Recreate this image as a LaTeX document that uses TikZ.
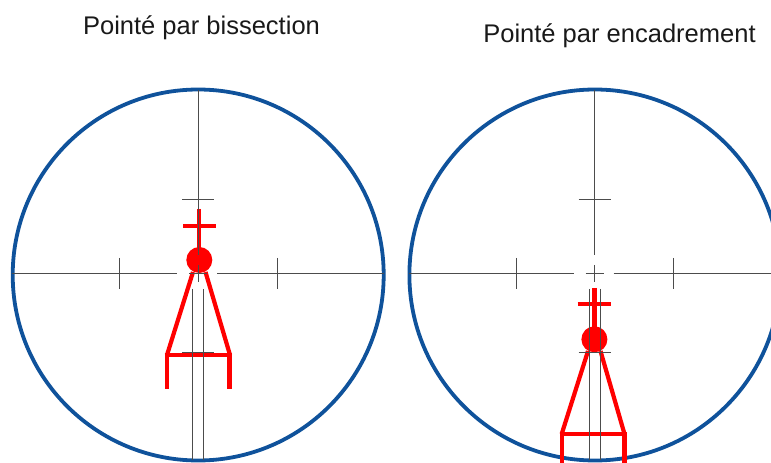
\documentclass[tikz,border=0pt]{standalone}
\usepackage{fontspec}
\setmainfont{Liberation Sans}
\usetikzlibrary{positioning}

\begin{document}
\begin{tikzpicture}[
    x=0.25mm, y=-0.25mm,
    ttl/.style={font=\fontsize{18.15pt}{20pt}\selectfont, inner sep=0pt, text=black!90},
    ring/.style={draw={rgb,255:red,15;green,82;blue,155}, line width=0.95mm},
    wire/.style={draw=black!70, line width=0.27mm},
    tower/.style={draw=red, line width=1.05mm}
  ]
  \useasboundingbox (0,0) rectangle (771,463);
  \clip (0,0) rectangle (771,463);

  \node[ttl] (titleA) at (201.5, 27.5) {Pointé par bissection};
  \node[ttl] (titleB) at (619.5, 35.5) {Pointé par encadrement};

  % circles
  \draw[ring] (198.2,275) circle (185.5);
  \draw[ring] (594.9,275) circle (185.5);

  % targets
  \fill[red] (199.3,260) circle (13);
  \draw[tower] (199.3,209) -- (199.3,250);
  \draw[tower] (183,226) -- (216,226);
  \draw[tower] (193,272) -- (167,355);
  \draw[tower] (205.5,272) -- (230,355);
  \draw[tower] (164.5,355) -- (232,355);
  \draw[tower] (167,354) -- (167,389);
  \draw[tower] (229.5,354) -- (229.5,389);

  \fill[red] (594.4,339.3) circle (13);
  \draw[tower] (594.4,288) -- (594.4,330);
  \draw[tower] (577.7,304) -- (611,304);
  \draw[tower] (588,351) -- (561.7,434);
  \draw[tower] (600.5,351) -- (624.5,434);
  \draw[tower] (559.5,434) -- (626.5,434);
  \draw[tower] (561.7,433) -- (561.7,470);
  \draw[tower] (624.5,433) -- (624.5,470);

  % reticles
  \foreach \cx in {198.2,594.7} {
    \draw[wire] (\cx,90) -- (\cx,255);
    \draw[wire] (\cx,265) -- (\cx,282);
    \draw[wire] (\cx-5.5,289) -- (\cx-5.5,460);
    \draw[wire] (\cx+5.5,289) -- (\cx+5.5,460);
    \draw[wire] (\cx-186,273.5) -- (\cx-21,273.5);
    \draw[wire] (\cx-9,273.5) -- (\cx+9,273.5);
    \draw[wire] (\cx+19,273.5) -- (\cx+186,273.5);
    \draw[wire] (\cx-78.5,258) -- (\cx-78.5,289);
    \draw[wire] (\cx+79,258) -- (\cx+79,289);
    \draw[wire] (\cx-16,199.5) -- (\cx+16,199.5);
    \draw[wire] (\cx-16,352.5) -- (\cx+16,352.5);
  }
\end{tikzpicture}
\end{document}
